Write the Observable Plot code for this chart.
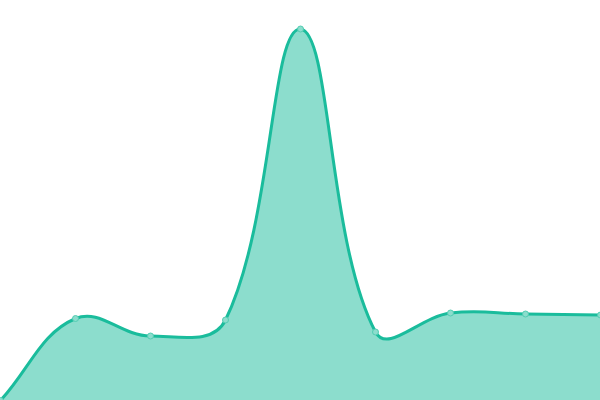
<!DOCTYPE html>
<html>
<head>
<meta charset="utf-8">
<script src="https://cdn.jsdelivr.net/npm/d3@7"></script>
<script src="https://cdn.jsdelivr.net/npm/@observablehq/plot@0.6"></script>
<style>
  html, body { margin: 0; padding: 0; background: #fff; }
  #chart svg { display: block; }
</style>
</head>
<body>
<div id="chart"></div>
<script>
const categories = [0, 1, 2, 3, 4, 5, 6, 7, 8];
const values = [0, 82, 64.5, 80.5, 371.5, 68.5, 87.5, 86.5, 85.5];

const data = categories.map((c, i) => ({x: c, y: values[i]}));

// Distance-weighted spline (tension-based), implemented as a d3 curve factory
function tensionCurve(t) {
  return function(context) {
    let pts = [], line = NaN;
    return {
      areaStart() { line = 0; },
      areaEnd() { line = NaN; },
      lineStart() { pts = []; },
      point(x, y) { pts.push([+x, +y]); },
      lineEnd() {
        const n = pts.length;
        if (n) {
          if (line) context.lineTo(pts[0][0], pts[0][1]);
          else context.moveTo(pts[0][0], pts[0][1]);
          const cpPrev = [], cpNext = [];
          for (let i = 0; i < n; i++) {
            const c = pts[i], p = pts[i - 1] || c, nx = pts[i + 1] || c;
            const d01 = Math.hypot(c[0] - p[0], c[1] - p[1]);
            const d12 = Math.hypot(nx[0] - c[0], nx[1] - c[1]);
            let s01 = d01 / (d01 + d12), s12 = d12 / (d01 + d12);
            if (isNaN(s01)) s01 = 0;
            if (isNaN(s12)) s12 = 0;
            const fa = t * s01, fb = t * s12;
            cpPrev.push([c[0] - fa * (nx[0] - p[0]), c[1] - fa * (nx[1] - p[1])]);
            cpNext.push([c[0] + fb * (nx[0] - p[0]), c[1] + fb * (nx[1] - p[1])]);
          }
          for (let i = 1; i < n; i++) {
            context.bezierCurveTo(cpNext[i - 1][0], cpNext[i - 1][1], cpPrev[i][0], cpPrev[i][1], pts[i][0], pts[i][1]);
          }
        }
        if (line || (line !== 0 && n === 1)) context.closePath();
        line = 1 - line;
      }
    };
  };
}
const curve = tensionCurve(0.4);

const chart = Plot.plot({
  width: 600,
  height: 400,
  margin: 0,
  x: {domain: [0, 8], axis: null},
  y: {domain: [0, 400], axis: null},
  marks: [
    Plot.areaY(data, {x: "x", y: "y", curve, fill: "#1abc9c", fillOpacity: 0.5}),
    Plot.lineY(data, {x: "x", y: "y", curve, stroke: "#1abc9c", strokeWidth: 3}),
    Plot.dot(data, {x: "x", y: "y", r: 3, fill: "#8cddcd", stroke: "#52cdb2", strokeWidth: 1})
  ]
});
document.getElementById("chart").appendChild(chart);
</script>
</body>
</html>
